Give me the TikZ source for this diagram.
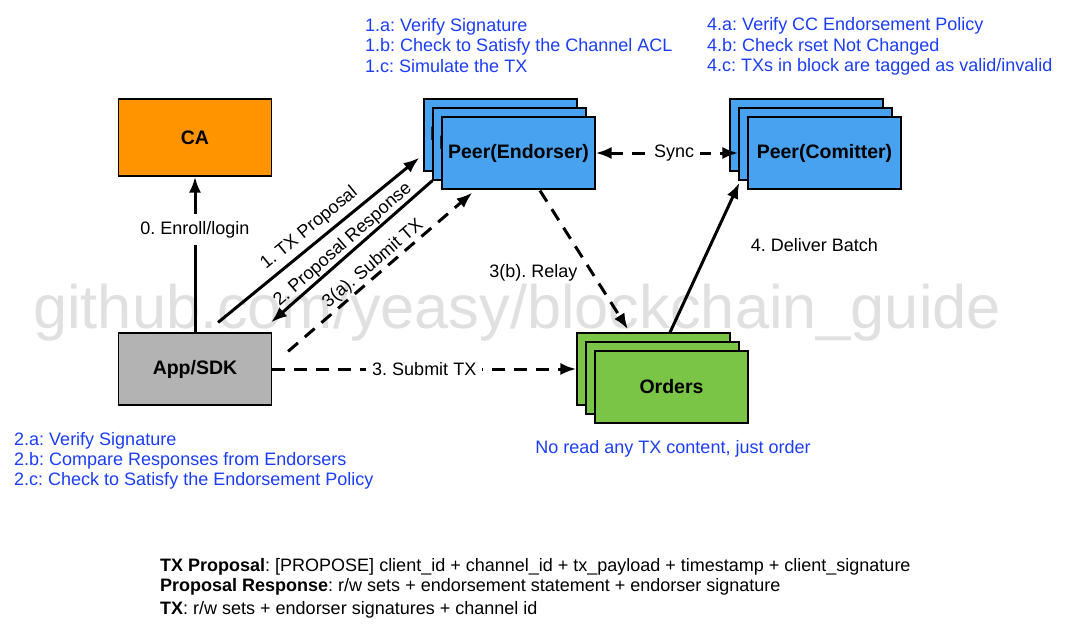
\documentclass[tikz,border=0pt]{standalone}
\usepackage{fontspec}
\setmainfont{Liberation Sans}
\usetikzlibrary{arrows.meta,calc}
\definecolor{peerblue}{RGB}{72,162,240}
\definecolor{caorange}{RGB}{255,148,0}
\definecolor{ordgreen}{RGB}{122,196,70}
\definecolor{appgray}{RGB}{179,179,179}
\definecolor{notecol}{RGB}{28,62,250}
\definecolor{wmark}{RGB}{224,224,224}
\frenchspacing
\begin{document}
\begin{tikzpicture}[x=1pt,y=-1pt,
  box/.style={draw=black, line width=1.2pt, minimum width=153pt, minimum height=72pt, inner sep=0pt, font=\bfseries\fontsize{19.5}{22}\selectfont},
  note/.style={text=notecol, font=\fontsize{18}{21}\selectfont, anchor=base west, inner sep=0pt},
  lab/.style={font=\fontsize{18}{21}\selectfont, inner sep=1pt},
  flab/.style={lab, fill=white, inner xsep=6pt, inner ysep=7pt},
  tip/.tip={Latex[length=16pt,width=12pt]},
  arr/.style={line width=3pt, -tip},
  arrb/.style={line width=3pt, tip-},
  arr2/.style={line width=3pt, tip-tip},
  dashy/.style={dash pattern=on 13pt off 9pt},
  bottomtxt/.style={font=\fontsize{18}{21}\selectfont, anchor=base west, inner sep=0pt}
]
\useasboundingbox (0,0) rectangle (1066,635);
\fill[white] (0,0) rectangle (1066,635);

% watermark
\node[anchor=base west, inner sep=0pt, text=wmark, font=\fontsize{61.3}{70}\selectfont] (wm) at (33,328) {github.com/yeasy/blockchain\_guide};

% boxes
\node[box, fill=caorange, minimum height=77pt] (ca) at (195,137.5) {CA};
\node[box, fill=appgray] (app) at (195,369) {App/SDK};

\node[box, fill=peerblue] (e1) at (500.5,135) {Peer(Endorser)};
\node[box, fill=peerblue] (e2) at (509.5,144) {Peer(Endorser)};
\node[box, fill=peerblue] (e3) at (518.5,153) {Peer(Endorser)};

\node[box, fill=peerblue] (c1) at (806.5,135) {Peer(Comitter)};
\node[box, fill=peerblue] (c2) at (815.5,144) {Peer(Comitter)};
\node[box, fill=peerblue] (c3) at (824.5,153) {Peer(Comitter)};

\node[box, fill=ordgreen] (o1) at (653.5,369) {};
\node[box, fill=ordgreen] (o2) at (662.5,378) {};
\node[box, fill=ordgreen] (o3) at (671.5,387) {Orders};

% connectors
\draw[arr] (app.north) -- node[flab, pos=0.66] {0. Enroll/login} (ca.south);
\draw[arr] ([shift={(-54,-10)}]app.north east) -- node[lab, pos=0.5, sloped, above=4pt] {1. TX Proposal} ([shift={(-4,-14)}]e1.south west);
\draw[arrb] ([shift={(-1,-10)}]app.north east) -- node[lab, pos=0.49, sloped, above=0pt] {2. Proposal Response} (e2.south west);
\draw[arr, dashy] ([shift={(16,19)}]app.north east) -- node[lab, pos=0.5, sloped, above=0pt] {3(a). Submit TX} ([shift={(31,3)}]e3.south west);
\draw[arr, dashy] (app.east) -- node[flab, pos=0.5] {3. Submit TX} (o1.west);
\draw[arr, dashy] ([shift={(21.5,1)}]e3.south) -- node[lab, pos=0.59, left=12pt] {3(b). Relay} ([shift={(-25.5,-3)}]o1.north);
\draw[arr] ([shift={(16.5,0)}]o1.north) -- node[lab, pos=0.58, right=38pt] {4. Deliver Batch} ([shift={(1,2)}]c2.south west);
\draw[arr2, dashy] (e3.east) -- node[flab, pos=0.55] {Sync} ([shift={(0,9)}]c2.west);

% notes
\node[note] (n1a) at (365,31) {1.a: Verify Signature};
\node[note] (n1b) at (365,51.5) {1.b: Check to Satisfy the Channel ACL};
\node[note] (n1c) at (365,72) {1.c: Simulate the TX};

\node[note] (n4a) at (707,30.5) {4.a: Verify CC Endorsement Policy};
\node[note] (n4b) at (707,51) {4.b: Check rset Not Changed};
\node[note] (n4c) at (707,71.5) {4.c: TXs in block are tagged as valid/invalid};

\node[note] (n2a) at (14,445) {2.a: Verify Signature};
\node[note] (n2b) at (14,465) {2.b: Compare Responses from Endorsers};
\node[note] (n2c) at (14,485.5) {2.c: Check to Satisfy the Endorsement Policy};

\node[note, anchor=base] (nord) at (673,453) {No read any TX content, just order};

% legend
\node[bottomtxt] (l1) at (160,571) {\textbf{TX Proposal}: [PROPOSE] client\_id + channel\_id + tx\_payload + timestamp + client\_signature};
\node[bottomtxt] (l2) at (160,591) {\textbf{Proposal Response}: r/w sets + endorsement statement + endorser signature};
\node[bottomtxt] (l3) at (160,614) {\textbf{TX}: r/w sets + endorser signatures + channel id};
\end{tikzpicture}
\end{document}
